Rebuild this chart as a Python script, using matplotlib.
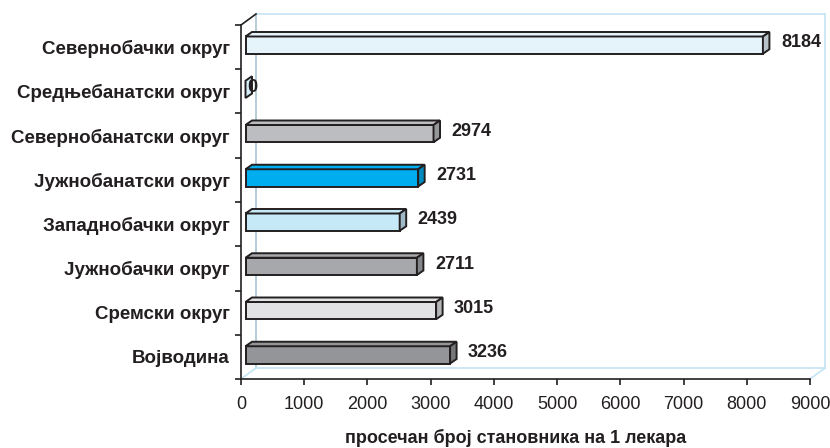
import matplotlib
matplotlib.use("Agg")
import matplotlib.pyplot as plt
from matplotlib.patches import Polygon
import numpy as np

categories = ["Севернобачки округ", "Средњебанатски округ", "Севернобанатски округ",
              "Јужнобанатски округ", "Западнобачки округ", "Јужнобачки округ",
              "Сремски округ", "Војводина"]
values = [8184, 0, 2974, 2731, 2439, 2711, 3015, 3236]
colors = ["#e5f4fb", "#d4edf8", "#bcbdc0", "#00aeef", "#c6e9f8", "#a6a8ab", "#e1e2e4", "#939598"]
xticks = [0, 1000, 2000, 3000, 4000, 5000, 6000, 7000, 8000, 9000]
xlabel = "просечан број становника на 1 лекара"

plt.rcParams['font.family'] = ['Liberation Sans', 'DejaVu Sans']

W, H = 830, 448
fig = plt.figure(figsize=(W / 100, H / 100), dpi=100)
AX_L, AX_R, AX_T, AX_B = 241, 810, 25, 379
ax = fig.add_axes([AX_L / W, (H - AX_B) / H, (AX_R - AX_L) / W, (AX_B - AX_T) / H])

XMIN, XMAX = 0, 9000
n = len(categories)
YMIN, YMAX = -0.5, n - 0.5
ax.set_xlim(XMIN, XMAX)
ax.set_ylim(YMIN, YMAX)
px_x = (XMAX - XMIN) / (AX_R - AX_L)
px_y = (YMAX - YMIN) / (AX_B - AX_T)

ypos = np.arange(n)[::-1]  # first category at the top
edge = "#231f20"

# back wall / floor
WX, WY = 15 * px_x, 11 * px_y
wall = "#c3e4f2"
wall_left = "#a9c3d1"
kw = dict(clip_on=False, lw=1.2, zorder=0.5)
ax.plot([XMIN + WX, XMIN + WX], [YMIN + WY, YMAX + WY], color=wall_left, **kw)
ax.plot([XMIN + WX, XMAX + WX], [YMAX + WY, YMAX + WY], color=wall, **kw)
ax.plot([XMAX + WX, XMAX + WX], [YMIN + WY, YMAX + WY], color=wall, **kw)
ax.plot([XMIN + WX, XMAX + WX], [YMIN + WY, YMIN + WY], color=wall, **kw)
ax.plot([XMIN, XMIN + WX], [YMIN, YMIN + WY], color=wall, **kw)
ax.plot([XMAX, XMAX + WX], [YMIN, YMIN + WY], color=wall, **kw)
ax.plot([XMIN, XMIN + WX], [YMAX, YMAX + WY], color=edge, clip_on=False, lw=1.2, zorder=3)

# bars (pseudo 3D)
OX, OY = 4.5 * px_x, 2 * px_y
DX, DY = 6.5 * px_x, 4.5 * px_y
BAR_H = 0.39

def darker(c, f):
    r, g, b = matplotlib.colors.to_rgb(c)
    return (r * f, g * f, b * f)

ax.barh(ypos + OY, values, height=BAR_H, left=OX, color=colors,
        edgecolor=edge, linewidth=1.4, zorder=2)
for y, v, c in zip(ypos, values, colors):
    x0, x1 = OX, v + OX
    yb, yt = y + OY - BAR_H / 2, y + OY + BAR_H / 2
    if v > 0:
        ax.add_patch(Polygon([(x0, yt), (x1, yt), (x1 + DX, yt + DY), (x0 + DX, yt + DY)],
                             closed=True, facecolor=c, edgecolor=edge, lw=1.4, zorder=2))
    ax.add_patch(Polygon([(x1, yb), (x1 + DX, yb + DY), (x1 + DX, yt + DY), (x1, yt)],
                         closed=True, facecolor=darker(c, 0.8) if v > 0 else c,
                         edgecolor=edge, lw=1.4, zorder=2.1))
    off = 18 if v > 0 else 2
    ax.annotate(f"{v}", (x1, y + OY + DY / 2), xytext=(off, 0), textcoords="offset pixels",
                ha="left", va="center", fontsize=13, fontweight="bold", color="#231f20",
                zorder=4)

# axes styling
for s in ["top", "right"]:
    ax.spines[s].set_visible(False)
for s in ["left", "bottom"]:
    ax.spines[s].set_color(edge)
    ax.spines[s].set_linewidth(1.2)
    ax.spines[s].set_zorder(3)

ax.set_xticks(xticks)
ax.set_xticklabels([str(t) for t in xticks])
ax.tick_params(axis="x", direction="out", length=4.5, width=1.2, color=edge,
               labelsize=13, pad=8, labelcolor="#231f20")
ax.set_yticks(ypos)
ax.set_yticklabels(categories, fontweight="bold", fontsize=13.5)
ax.tick_params(axis="y", which="major", length=0, pad=8, labelcolor="#231f20")
ax.set_yticks(np.arange(n + 1) - 0.5, minor=True)
ax.tick_params(axis="y", which="minor", direction="out", length=4.5, width=1.2, color=edge)

fig.text(516 / W, 1 - 438 / H, xlabel, ha="center", va="center", fontsize=13,
         fontweight="bold", color="#231f20")

fig.savefig("out.png", dpi=100)
